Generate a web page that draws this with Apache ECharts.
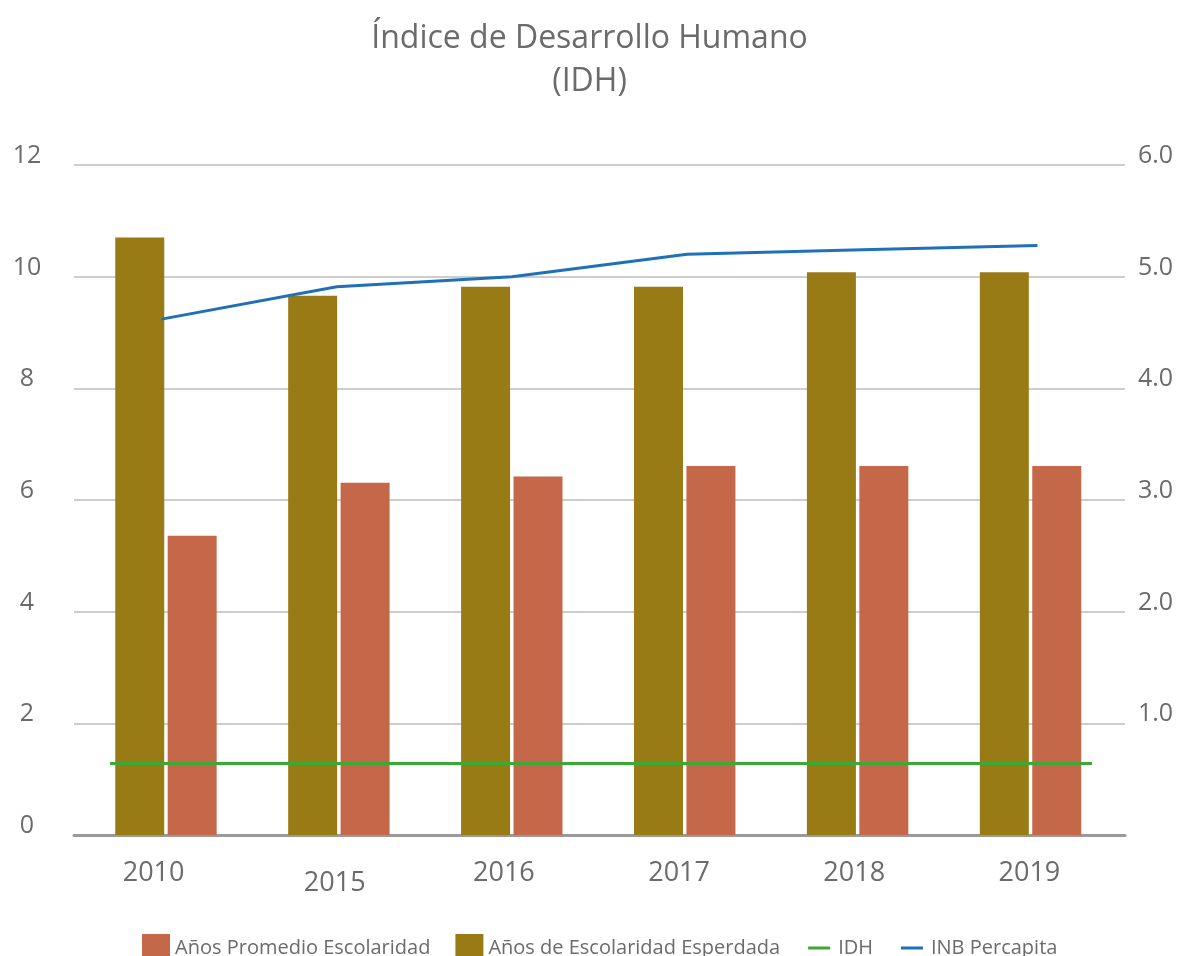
<!DOCTYPE html>
<html>
<head>
<meta charset="utf-8">
<script src="https://cdn.jsdelivr.net/npm/echarts@6/dist/echarts.min.js"></script>
<style>html,body{margin:0;padding:0;background:#fff}#c{width:1179px;height:956px}</style>
</head>
<body>
<div id="c"></div>
<script>
const years = ['2010', '2015', '2016', '2017', '2018', '2019'];
const escolaridadEsperada = [10.70, 9.66, 9.82, 9.82, 10.08, 10.08];
const promedioEscolaridad = [5.36, 6.31, 6.42, 6.61, 6.61, 6.61];
const idh = [0.64, 0.64, 0.64, 0.64, 0.64, 0.64];
const inbPercapita = [4.62, 4.91, 5.00, 5.20, 5.24, 5.28];
const leftTicks = [0, 2, 4, 6, 8, 10, 12];
const rightTicks = [1.0, 2.0, 3.0, 4.0, 5.0, 6.0];

const txt = '#6b6b6b';
const font = 'Open Sans';
const lineIcon = 'path://M0,0h0.01v0.01h-0.01z M3,12.5h22v3h-22z M27.99,27.99h0.01v0.01h-0.01z';
const chart = echarts.init(document.getElementById('c'));
chart.setOption({
  animation: false,
  title: {
    text: 'Índice de Desarrollo Humano\n(IDH)',
    left: 'center', top: 12,
    textStyle: { fontFamily: font, fontWeight: 'normal', fontSize: 32, lineHeight: 43, color: txt }
  },
  legend: {
    left: 137, top: 929,
    itemWidth: 28, itemHeight: 28, itemGap: 25,
    textStyle: { fontFamily: font, fontSize: 20, color: txt },
    data: [
      { name: 'Años Promedio Escolaridad', icon: 'rect' },
      { name: 'Años de Escolaridad Esperdada', icon: 'rect' },
      { name: 'IDH', icon: lineIcon },
      { name: 'INB Percapita', icon: lineIcon }
    ]
  },
  grid: [
    { left: 74, right: 54, top: 165, bottom: 121 },
    { left: 110, right: 87, top: 165, bottom: 121 },
    { left: 79.5, right: 62, top: 165, bottom: 121 }
  ],
  xAxis: [
    {
      type: 'category', data: years, gridIndex: 0,
      axisLine: { lineStyle: { color: '#9a9a9a', width: 3 } },
      axisTick: { show: false },
      axisLabel: {
        interval: 0, hideOverlap: false,
        margin: 25, fontFamily: font, fontSize: 27, color: txt,
        formatter: v => v === '2015' ? '{low|' + v + '}' : '{std|' + v + '}',
        rich: {
          std: { fontFamily: font, fontSize: 27, color: txt, padding: [0, 16, 0, 0] },
          low: { fontFamily: font, fontSize: 27, color: txt, padding: [10, 4, 0, 0] }
        }
      }
    },
    { type: 'category', data: years, gridIndex: 1, boundaryGap: false, show: false },
    { type: 'category', data: years, gridIndex: 2, show: false }
  ],
  yAxis: [
    {
      type: 'value', gridIndex: 0, min: leftTicks[0], max: leftTicks[leftTicks.length - 1], interval: 2,
      axisLine: { show: false }, axisTick: { show: false },
      splitLine: { lineStyle: { color: '#bdbdbd', width: 1.5 } },
      axisLabel: { margin: 47, align: 'center', verticalAlign: 'bottom', lineHeight: 18, fontFamily: font, fontSize: 25, color: txt }
    },
    {
      type: 'value', gridIndex: 0, min: 0, max: rightTicks[rightTicks.length - 1], interval: 1,
      position: 'right',
      axisLine: { show: false }, axisTick: { show: false }, splitLine: { show: false },
      axisLabel: {
        margin: 13, align: 'left', verticalAlign: 'bottom', lineHeight: 18, fontFamily: font, fontSize: 25, color: txt,
        formatter: v => rightTicks.includes(v) ? v.toFixed(1) : ''
      }
    },
    { type: 'value', gridIndex: 1, min: 0, max: 6, show: false },
    { type: 'value', gridIndex: 2, min: 0, max: 12, show: false }
  ],
  series: [
    {
      name: 'Años de Escolaridad Esperdada', type: 'bar', xAxisIndex: 2, yAxisIndex: 3,
      data: escolaridadEsperada, barWidth: 49, barGap: '7%',
      itemStyle: { color: '#997b16' }
    },
    {
      name: 'Años Promedio Escolaridad', type: 'bar', xAxisIndex: 2, yAxisIndex: 3,
      data: promedioEscolaridad, barWidth: 49, barGap: '7%',
      itemStyle: { color: '#c5684a' }
    },
    {
      name: 'IDH', type: 'line', xAxisIndex: 1, yAxisIndex: 2,
      data: idh, symbol: 'none',
      lineStyle: { color: '#3aaa35', width: 3 }, itemStyle: { color: '#3aaa35' }
    },
    {
      name: 'INB Percapita', type: 'line', xAxisIndex: 0, yAxisIndex: 1,
      data: inbPercapita, symbol: 'none',
      lineStyle: { color: '#1f70b8', width: 3 }, itemStyle: { color: '#1f70b8' }
    }
  ]
});
</script>
</body>
</html>
